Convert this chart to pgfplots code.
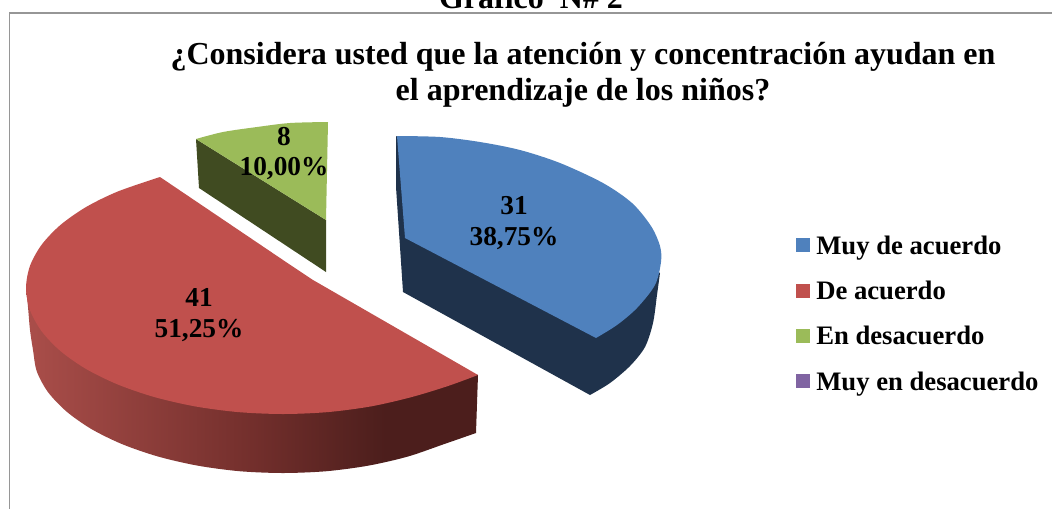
\documentclass[border=0pt]{standalone}
\usepackage{pgfplots}
\pgfplotsset{compat=1.18}
\usepackage{fontspec}
\setmainfont{Liberation Serif}
\definecolor{cblue}{RGB}{79,129,189}
\definecolor{cblued}{RGB}{31,50,75}
\definecolor{cred}{RGB}{192,80,77}
\definecolor{cgreen}{RGB}{155,187,89}
\definecolor{cgreend}{RGB}{64,75,33}
\definecolor{cpurple}{RGB}{128,100,162}
\definecolor{cframe}{RGB}{150,150,150}
\pgfdeclarehorizontalshading{redside}{100bp}{
  rgb(0bp)=(0.667,0.306,0.290);
  rgb(25bp)=(0.667,0.306,0.290);
  rgb(50bp)=(0.451,0.184,0.173);
  rgb(64.7bp)=(0.298,0.118,0.110);
  rgb(100bp)=(0.298,0.118,0.110)}
\tikzset{
  ttl/.style={font=\bfseries\fontsize{24}{28}\selectfont,anchor=base,inner sep=0pt},
  lab/.style={font=\bfseries\fontsize{20.5}{24}\selectfont,anchor=base,text=black,inner sep=0pt},
  leg/.style={font=\bfseries\fontsize{20}{24}\selectfont,anchor=base west,text=black,inner sep=0pt},
}
\begin{document}
\begin{tikzpicture}
\clip (0,0) rectangle (789pt,381pt);
\begin{axis}[
  at={(0,0)},anchor=south west,
  width=789pt,height=381pt,scale only axis,
  xmin=0,xmax=1052,ymin=0,ymax=508,y dir=reverse,
  hide axis,clip=false,
]
% frame
\addplot[draw=cframe,line width=0.9pt] coordinates {(9.5,520) (9.5,13) (1060,13)};
% red slice side
\addplot[draw=none,smooth,shade,shading=redside,shading angle=0] coordinates {
(26,288)(28,307)(30,330)(33,350)(36.8,371.4)(48,392.1)(66.5,411.5)(91.5,429.1)(122.3,444.2)(158,456.5)(197.5,465.6)(239.5,471.2)(283,473)(326.5,471.2)(368.5,465.6)(408,456.5)(443.8,444.2)(476,433)} -- (axis cs:478,375) -- cycle;
% red slice top
\addplot[draw=none,smooth,fill=cred] coordinates {
(160,177)(117.8,191.5)(86.1,207)(60.4,225)(41.5,244.9)(29.9,266.1)(26,288)(29.9,309.9)(41.5,331.1)(60.4,351)(86.1,369)(117.8,384.5)(154.5,397.1)(195.1,406.4)(238.3,412.1)(283,414)(327.7,412.1)(370.9,406.4)(411.5,397.1)(448,386)(478,375)} -- (axis cs:313,280) -- (axis cs:283,260) -- cycle;
% green
\addplot[draw=none,fill=cgreend] coordinates {(196,139)(199,188)(326,272)(326,220)} -- cycle;
\addplot[draw=none,smooth,fill=cgreen] coordinates {(196,139)(223,132)(257,127)(290,123)(328,122)} -- (axis cs:326,220) -- cycle;
% blue
\addplot[draw=none,smooth,fill=cblued] coordinates {(590,395)(610,383)(630,366)(645,347)(653,323)(657,295)(660,273)} -- (axis cs:396,136) -- (axis cs:396,187) -- (axis cs:403,292) -- cycle;
\addplot[draw=none,smooth,fill=cblue] coordinates {(397,136)(440,137)(480,142)(520,150)(560,163)(603,183)(632,203)(651,226)(660,246)(661,262)(655,285)(637,308)(617,325)(596,338)} -- (axis cs:405,238) -- cycle;
% legend swatches
\addplot[draw=none,fill=cblue] coordinates {(796,238)(810,238)(810,252)(796,252)} -- cycle;
\addplot[draw=none,fill=cred] coordinates {(796,284)(810,284)(810,298)(796,298)} -- cycle;
\addplot[draw=none,fill=cgreen] coordinates {(796,329)(810,329)(810,343)(796,343)} -- cycle;
\addplot[draw=none,fill=cpurple] coordinates {(796,374)(810,374)(810,388)(796,388)} -- cycle;
% text
\node[ttl] at (axis cs:531,8) {Gráfico\ \ N\# 2};
\node[ttl] at (axis cs:583,64) {¿Considera usted que la atención y concentración ayudan en};
\node[ttl] at (axis cs:583,100) {el aprendizaje de los niños?};
\node[lab] at (axis cs:284,145) {8};
\node[lab] at (axis cs:284,175) {10,00\%};
\node[lab] at (axis cs:514,214) {31};
\node[lab] at (axis cs:514,245) {38,75\%};
\node[lab] at (axis cs:199,306) {41};
\node[lab] at (axis cs:199,337) {51,25\%};
\node[leg] at (axis cs:816,254) {Muy de acuerdo};
\node[leg] at (axis cs:816,299) {De acuerdo};
\node[leg] at (axis cs:816,344) {En desacuerdo};
\node[leg] at (axis cs:816,390) {Muy en desacuerdo};
\end{axis}
\end{tikzpicture}
\end{document}
